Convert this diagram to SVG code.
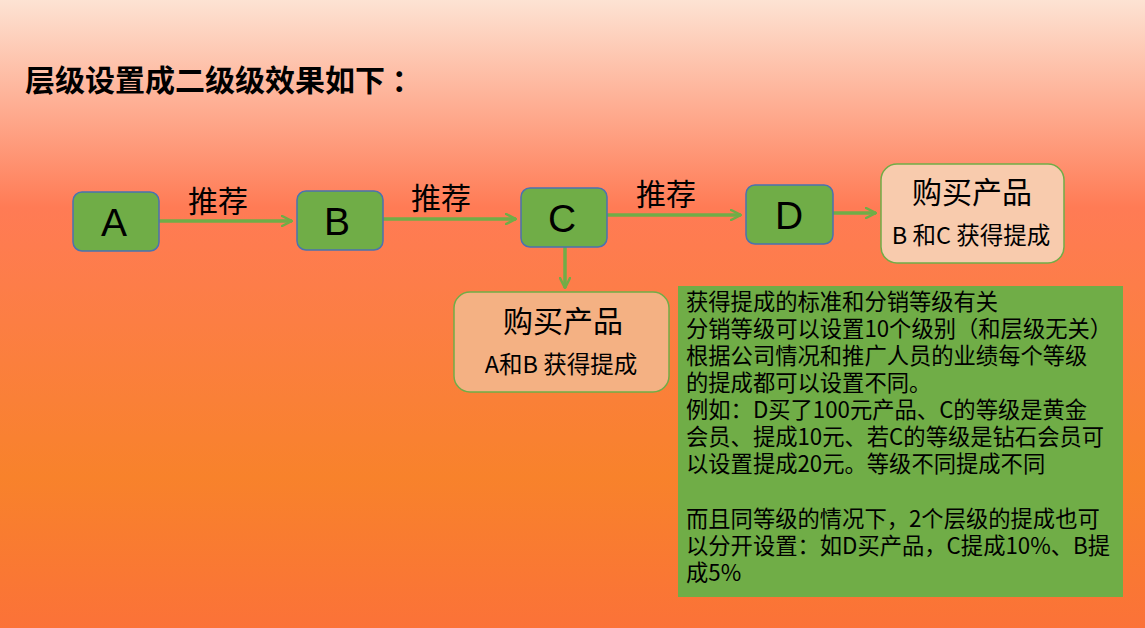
<svg xmlns="http://www.w3.org/2000/svg" width="1145" height="628" viewBox="0 0 1145 628">
<defs>
<linearGradient id="bg" x1="0" y1="0" x2="0" y2="1">
<stop offset="0" stop-color="#fde3d3"/>
<stop offset="0.33" stop-color="#ff7b55"/>
<stop offset="0.76" stop-color="#f8822b"/>
<stop offset="1" stop-color="#fb7238"/>
</linearGradient>
<marker id="arr" viewBox="0 0 12 12" refX="11" refY="6" markerWidth="12" markerHeight="12" markerUnits="userSpaceOnUse" orient="auto">
<path d="M1,1 L11,6 L1,11" fill="none" stroke="#70ad47" stroke-width="2.5" stroke-linecap="round" stroke-linejoin="round"/>
</marker>
<style>
.node{fill:#70ad47;stroke:#4a72b0;stroke-width:1.5}
.lbl{font-family:"Liberation Sans","Noto Sans CJK SC",sans-serif;font-size:39px;fill:#000;text-anchor:middle}
.cn{font-family:"Noto Sans CJK SC",sans-serif;fill:#000}
.edge{stroke:#70ad47;stroke-width:3.5;fill:none;marker-end:url(#arr)}
.buy{stroke:#70ad47;stroke-width:1.5}
</style>
</defs>
<rect width="1145" height="628" fill="url(#bg)"/>
<text class="cn" x="25" y="91" font-size="30" font-weight="bold">层级设置成二级级效果如下 ：</text>

<g id="connectors">
<line class="edge" x1="159" y1="221" x2="292" y2="221"/>
<line class="edge" x1="383" y1="219" x2="516" y2="219"/>
<line class="edge" x1="607" y1="215" x2="741" y2="215"/>
<line class="edge" x1="833" y1="213" x2="876" y2="213"/>
<line class="edge" x1="565" y1="247" x2="565" y2="288"/>
<text class="cn" x="218" y="212" font-size="30" text-anchor="middle">推荐</text>
<text class="cn" x="441" y="209" font-size="30" text-anchor="middle">推荐</text>
<text class="cn" x="666" y="205" font-size="30" text-anchor="middle">推荐</text>
</g>

<g id="nodeA"><rect class="node" x="73" y="192" width="86" height="59" rx="9"/><text class="lbl" x="114" y="236">A</text></g>
<g id="nodeB"><rect class="node" x="297" y="191" width="86" height="59" rx="9"/><text class="lbl" x="337" y="235">B</text></g>
<g id="nodeC"><rect class="node" x="521" y="188" width="86" height="59" rx="9"/><text class="lbl" x="562" y="232">C</text></g>
<g id="nodeD"><rect class="node" x="746" y="185" width="87" height="59" rx="9"/><text class="lbl" x="789" y="229">D</text></g>

<g id="buy1">
<rect class="buy" x="454" y="292" width="215" height="100" rx="16" fill="#f4b183"/>
<text class="cn" x="563" y="332" font-size="30" text-anchor="middle">购买产品</text>
<text class="cn" x="561" y="373" font-size="23.5" text-anchor="middle">A和B 获得提成</text>
</g>

<g id="buy2">
<rect class="buy" x="881" y="164" width="183" height="99" rx="16" fill="#f8cbad"/>
<text class="cn" x="972" y="203" font-size="30" text-anchor="middle">购买产品</text>
<text class="cn" x="971" y="244" font-size="23.5" text-anchor="middle">B 和C 获得提成</text>
</g>

<g id="note">
<rect x="678" y="286" width="445" height="311" fill="#70ad47"/>
<g class="cn" font-size="22.3">
<text x="686" y="310">获得提成的标准和分销等级有关</text>
<text x="686" y="337">分销等级可以设置10个级别（和层级无关）</text>
<text x="686" y="364">根据公司情况和推广人员的业绩每个等级</text>
<text x="686" y="391">的提成都可以设置不同。</text>
<text x="686" y="418">例如：D买了100元产品、C的等级是黄金</text>
<text x="686" y="445">会员、提成10元、若C的等级是钻石会员可</text>
<text x="686" y="472">以设置提成20元。等级不同提成不同</text>
<text x="686" y="527">而且同等级的情况下，2个层级的提成也可</text>
<text x="686" y="554">以分开设置：如D买产品，C提成10%、B提</text>
<text x="686" y="581">成5%</text>
</g>
</g>
</svg>
